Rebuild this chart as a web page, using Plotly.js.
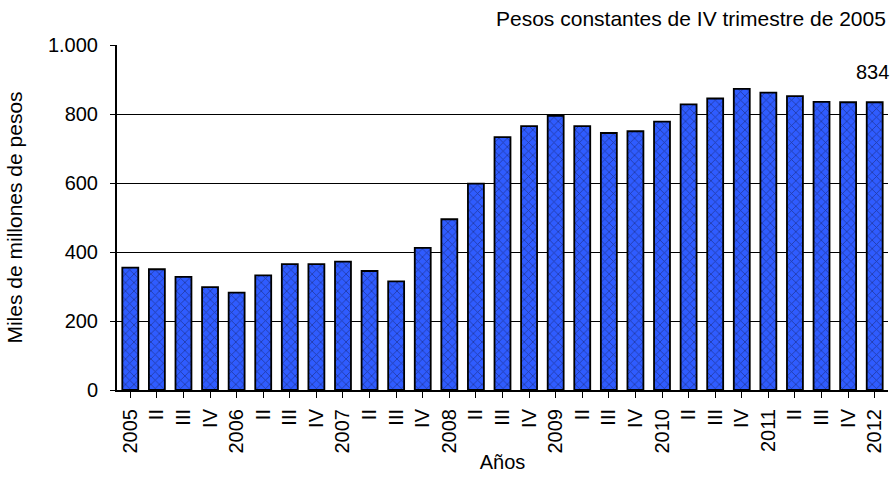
<!DOCTYPE html>
<html>
<head>
<meta charset="utf-8">
<script src="https://cdn.plot.ly/plotly-3.0.1.min.js"></script>
<style>html,body{margin:0;padding:0;background:#fff;}#chart{width:890px;height:477px;}</style>
</head>
<body>
<div id="chart"></div>
<script>
const quarters = ["2005","II","III","IV","2006","II","III","IV","2007","II","III","IV","2008","II","III","IV","2009","II","III","IV","2010","II","III","IV","2011","II","III","IV","2012"];
const values = [355,350,328,298,282,332,365,365,372,345,315,412,495,598,733,765,795,765,745,750,778,828,845,873,862,852,835,834,834];
const yTicks = [0,200,400,600,800,1000];
const yTickText = ["0","200","400","600","800","1.000"];
const titleText = "Pesos constantes de IV trimestre de 2005";
const lastLabel = "834";

const idx = quarters.map((q,i)=>i);
const font = {family:"Liberation Sans, Arial, sans-serif", size:20, color:"#000"};
const titleFont = {family:"Liberation Sans, Arial, sans-serif", size:21, color:"#000"};

const trace = {
  type:"bar",
  x: idx,
  y: values,
  marker:{
    color:"#2f5cff",
    line:{color:"#000", width:1.8},
    pattern:{shape:"x", fgcolor:"#1c2f8a", bgcolor:"#2f5cff", size:6, solidity:0.25, fgopacity:0.8}
  },
  hoverinfo:"none"
};

const layout = {
  width:890, height:477,
  margin:{l:117, r:2, t:45, b:87},
  paper_bgcolor:"#fff", plot_bgcolor:"#fff",
  showlegend:false,
  bargap:0.4,
  font: font,
  xaxis:{
    tickmode:"array", tickvals: idx, ticktext: quarters,
    tickangle:-90, ticks:"outside", tickson:"boundaries", ticklen:6, tickcolor:"#000", tickwidth:1,
    ticklabelstandoff:3,
    showline:true, linecolor:"#000", linewidth:2,
    range:[-0.5, quarters.length-0.5],
    showgrid:false, zeroline:false,
    tickfont:font,
    title:{text:"Años", font:font, standoff:2}
  },
  yaxis:{
    range:[0,1000],
    tickmode:"array", tickvals:yTicks, ticktext:yTickText,
    ticks:"outside", ticklen:5, tickcolor:"#000",
    ticklabelstandoff:8,
    showline:true, linecolor:"#000", linewidth:2,
    showgrid:true, gridcolor:"#000", gridwidth:1,
    zeroline:false,
    tickfont:font,
    title:{text:"Miles de millones de pesos", font:titleFont, standoff:20}
  },
  annotations:[
    {x:1, xref:"paper", y:1, yref:"paper", yanchor:"bottom", xanchor:"right", text:titleText, showarrow:false, font:titleFont, yshift:13},
    {x:idx[idx.length-1], y:values[values.length-1], xref:"x", yref:"y", text:lastLabel, showarrow:false, font:font, yanchor:"bottom", xanchor:"right", xshift:16, yshift:17}
  ]
};

Plotly.newPlot("chart",[trace],layout,{displayModeBar:false, staticPlot:true});
</script>
</body>
</html>
